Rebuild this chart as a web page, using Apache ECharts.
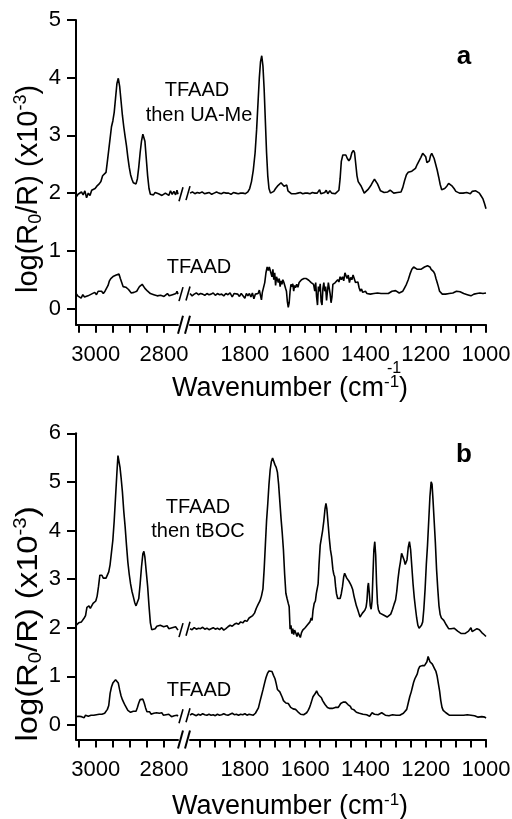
<!DOCTYPE html>
<html><head><meta charset="utf-8">
<script src="https://cdn.jsdelivr.net/npm/echarts@6/dist/echarts.min.js"></script>
<style>html,body{margin:0;padding:0;background:#fff}#c{width:512px;height:819px}</style>
</head><body><div id="c"></div>
<script>
// ---------- tick values ----------
const xTicksLeft = [3050, 3000, 2950, 2900, 2850, 2800];
const xLabelsLeft = [3000, 2800];
const xTicksRight = [1950, 1900, 1850, 1800, 1750, 1700, 1650, 1600, 1550, 1500, 1450, 1400, 1350, 1300, 1250, 1200, 1150, 1100, 1050, 1000];
const xLabelsRight = [1800, 1600, 1400, 1200, 1000];
const yTicksA = [0, 1, 2, 3, 4, 5];
const yTicksB = [0, 1, 2, 3, 4, 5, 6];

// ---------- panel a : TFAAD then UA-Me ----------
const aUpperLeft = [[3058,1.93],[3052,1.98],[3047,1.95],[3042,2.02],[3037,1.97],[3032,2.04],[3027,1.92],[3022,2.0],[3017,1.96],[3012,2.05],[3007,2.02],[3002,2.08],[2997,2.12],[2990,2.16],[2985,2.2],[2980,2.3],[2975,2.33],[2970,2.36],[2966,2.55],[2962,2.75],[2958,2.95],[2954,3.15],[2950,3.25],[2946,3.4],[2942,3.65],[2938,3.9],[2934,3.99],[2930,3.85],[2926,3.6],[2922,3.35],[2918,3.15],[2914,2.98],[2910,2.82],[2906,2.62],[2902,2.45],[2898,2.32],[2894,2.24],[2890,2.18],[2886,2.15],[2882,2.16],[2878,2.25],[2874,2.45],[2870,2.7],[2866,2.9],[2862,3.02],[2859,3.03],[2856,2.9],[2852,2.6],[2848,2.3],[2844,2.08],[2840,1.98],[2836,1.99],[2831,1.97],[2826,2.01],[2821,2.03],[2816,1.99],[2811,2.02],[2806,1.96],[2801,1.97],[2796,2.0],[2791,2.02],[2786,1.96],[2781,2.04],[2776,1.98],[2771,2.03],[2766,1.97],[2762,2.05],[2759,1.98]];
const aUpperRight = [[1982,2.0],[1974,2.02],[1966,1.99],[1958,2.01],[1950,2.0],[1942,2.02],[1934,1.99],[1926,2.0],[1918,2.01],[1910,1.98],[1902,2.0],[1894,2.02],[1886,2.0],[1878,1.99],[1870,2.01],[1862,2.0],[1854,2.0],[1846,1.98],[1838,2.01],[1830,2.0],[1822,1.99],[1814,2.0],[1806,2.0],[1798,1.99],[1790,2.02],[1784,2.08],[1778,2.2],[1772,2.4],[1766,2.7],[1761,3.1],[1756,3.6],[1752,4.0],[1748,4.28],[1744,4.38],[1740,4.2],[1736,3.8],[1732,3.25],[1728,2.7],[1724,2.3],[1720,2.08],[1715,2.0],[1710,2.0],[1704,2.03],[1698,2.08],[1692,2.12],[1686,2.15],[1680,2.18],[1675,2.17],[1670,2.12],[1665,2.1],[1661,2.14],[1657,2.04],[1652,2.02],[1646,1.99],[1640,2.0],[1632,1.99],[1624,2.0],[1616,2.01],[1608,1.99],[1600,2.0],[1592,2.0],[1584,1.99],[1576,2.01],[1568,2.0],[1560,2.0],[1552,2.06],[1548,1.99],[1542,2.0],[1535,2.01],[1530,2.05],[1525,1.99],[1518,2.04],[1512,2.0],[1506,2.02],[1500,1.99],[1494,2.01],[1488,2.05],[1484,2.25],[1480,2.55],[1475,2.66],[1470,2.68],[1465,2.66],[1460,2.6],[1455,2.56],[1450,2.6],[1445,2.7],[1440,2.74],[1436,2.7],[1432,2.5],[1428,2.3],[1424,2.2],[1419,2.17],[1414,2.12],[1409,2.06],[1404,2.0],[1398,2.02],[1392,2.06],[1386,2.1],[1380,2.15],[1375,2.2],[1370,2.24],[1365,2.23],[1360,2.16],[1355,2.1],[1350,2.04],[1344,2.02],[1338,2.01],[1332,2.0],[1326,2.02],[1318,2.05],[1312,2.03],[1306,2.0],[1300,1.99],[1294,2.01],[1288,2.0],[1282,2.02],[1276,2.1],[1270,2.22],[1264,2.32],[1258,2.36],[1252,2.37],[1246,2.38],[1240,2.4],[1234,2.43],[1228,2.5],[1222,2.56],[1216,2.62],[1210,2.69],[1205,2.7],[1200,2.63],[1196,2.53],[1192,2.5],[1188,2.56],[1184,2.65],[1180,2.69],[1176,2.68],[1172,2.6],[1167,2.5],[1162,2.4],[1157,2.28],[1152,2.15],[1147,2.06],[1142,2.05],[1137,2.08],[1130,2.12],[1124,2.17],[1118,2.18],[1112,2.12],[1106,2.08],[1100,2.03],[1094,2.02],[1088,2.0],[1082,2.02],[1076,2.0],[1070,2.03],[1064,2.01],[1058,2.04],[1052,1.99],[1046,2.03],[1040,2.02],[1034,2.04],[1028,2.02],[1022,2.0],[1016,1.95],[1010,1.9],[1005,1.82],[1000,1.73]];

// ---------- panel a : TFAAD ----------
const aLowerLeft = [[3058,0.26],[3053,0.22],[3048,0.25],[3043,0.18],[3038,0.24],[3033,0.2],[3028,0.17],[3023,0.22],[3018,0.2],[3013,0.25],[3008,0.24],[3003,0.28],[2998,0.24],[2993,0.3],[2988,0.28],[2983,0.3],[2978,0.26],[2973,0.3],[2968,0.32],[2964,0.4],[2960,0.48],[2956,0.52],[2952,0.53],[2948,0.56],[2944,0.55],[2940,0.58],[2936,0.61],[2932,0.6],[2928,0.52],[2924,0.45],[2920,0.38],[2916,0.37],[2912,0.37],[2908,0.34],[2904,0.33],[2900,0.3],[2896,0.27],[2892,0.25],[2888,0.28],[2884,0.27],[2880,0.3],[2876,0.34],[2872,0.38],[2868,0.41],[2864,0.42],[2860,0.4],[2856,0.35],[2852,0.32],[2848,0.3],[2844,0.28],[2840,0.26],[2835,0.27],[2830,0.24],[2825,0.26],[2820,0.22],[2815,0.25],[2810,0.23],[2805,0.25],[2800,0.21],[2795,0.24],[2790,0.26],[2785,0.22],[2780,0.25],[2775,0.24],[2770,0.27],[2765,0.26],[2762,0.3],[2759,0.25]];
const aLowerRight = [[1982,0.26],[1975,0.22],[1968,0.25],[1961,0.27],[1954,0.24],[1947,0.26],[1940,0.25],[1933,0.23],[1926,0.26],[1919,0.24],[1912,0.25],[1905,0.27],[1898,0.23],[1891,0.26],[1884,0.24],[1877,0.25],[1870,0.22],[1863,0.26],[1856,0.24],[1849,0.27],[1842,0.2],[1836,0.26],[1830,0.23],[1824,0.25],[1818,0.21],[1812,0.26],[1806,0.24],[1800,0.18],[1795,0.26],[1790,0.22],[1785,0.26],[1780,0.2],[1775,0.27],[1770,0.17],[1765,0.25],[1760,0.28],[1756,0.26],[1752,0.32],[1748,0.3],[1745,0.15],[1742,0.28],[1738,0.3],[1734,0.45],[1730,0.62],[1726,0.72],[1722,0.66],[1719,0.72],[1716,0.75],[1713,0.7],[1710,0.55],[1707,0.68],[1704,0.5],[1701,0.62],[1698,0.4],[1695,0.55],[1692,0.58],[1689,0.45],[1686,0.52],[1683,0.38],[1680,0.48],[1677,0.42],[1674,0.5],[1671,0.46],[1668,0.48],[1665,0.35],[1662,0.3],[1659,0.12],[1656,0.02],[1653,0.1],[1650,0.3],[1647,0.42],[1644,0.38],[1641,0.43],[1638,0.3],[1635,0.4],[1632,0.36],[1628,0.42],[1624,0.37],[1620,0.45],[1616,0.46],[1612,0.5],[1608,0.5],[1604,0.52],[1600,0.51],[1596,0.52],[1592,0.5],[1588,0.49],[1584,0.5],[1580,0.45],[1576,0.48],[1572,0.42],[1568,0.3],[1565,0.45],[1562,0.2],[1559,0.06],[1556,0.38],[1553,0.3],[1550,0.43],[1547,0.12],[1544,0.06],[1541,0.35],[1538,0.45],[1535,0.3],[1532,0.38],[1529,0.14],[1526,0.3],[1523,0.45],[1520,0.35],[1517,0.25],[1514,0.1],[1511,0.2],[1508,0.42],[1504,0.4],[1500,0.45],[1496,0.42],[1492,0.5],[1488,0.46],[1484,0.55],[1480,0.5],[1476,0.55],[1472,0.48],[1468,0.62],[1465,0.6],[1461,0.52],[1457,0.58],[1453,0.45],[1449,0.54],[1445,0.5],[1441,0.58],[1437,0.56],[1433,0.45],[1429,0.42],[1425,0.46],[1421,0.36],[1417,0.3],[1413,0.34],[1409,0.28],[1405,0.27],[1400,0.3],[1395,0.26],[1390,0.27],[1384,0.25],[1378,0.27],[1372,0.26],[1366,0.25],[1360,0.27],[1354,0.24],[1348,0.26],[1342,0.25],[1336,0.26],[1330,0.27],[1324,0.26],[1318,0.28],[1312,0.3],[1306,0.28],[1300,0.31],[1294,0.3],[1288,0.27],[1282,0.26],[1276,0.3],[1270,0.36],[1264,0.42],[1258,0.5],[1252,0.6],[1246,0.68],[1240,0.72],[1234,0.7],[1228,0.68],[1222,0.7],[1216,0.68],[1210,0.7],[1204,0.72],[1198,0.7],[1194,0.74],[1190,0.75],[1186,0.72],[1182,0.68],[1178,0.66],[1174,0.64],[1170,0.6],[1166,0.52],[1162,0.45],[1158,0.38],[1154,0.3],[1150,0.27],[1145,0.25],[1140,0.27],[1134,0.25],[1128,0.27],[1122,0.26],[1116,0.28],[1110,0.27],[1104,0.29],[1098,0.3],[1092,0.32],[1086,0.29],[1080,0.28],[1074,0.26],[1068,0.27],[1062,0.24],[1056,0.25],[1050,0.22],[1045,0.19],[1040,0.25],[1035,0.22],[1030,0.26],[1025,0.23],[1020,0.27],[1015,0.24],[1010,0.26],[1005,0.25],[1000,0.27]];

// ---------- panel b : TFAAD then tBOC ----------
const bUpperLeft = [[3058,2.05],[3054,2.08],[3050,2.1],[3046,2.08],[3042,2.12],[3038,2.15],[3034,2.2],[3030,2.25],[3026,2.42],[3023,2.38],[3020,2.45],[3016,2.4],[3012,2.45],[3008,2.5],[3004,2.48],[3000,2.55],[2996,2.65],[2992,2.85],[2988,3.08],[2985,3.12],[2982,3.08],[2978,3.02],[2974,3.0],[2970,3.02],[2966,3.05],[2962,3.15],[2958,3.3],[2954,3.55],[2950,3.8],[2946,4.2],[2942,4.7],[2938,5.2],[2935,5.54],[2932,5.5],[2929,5.3],[2926,5.1],[2922,4.8],[2918,4.4],[2914,4.08],[2910,3.7],[2906,3.35],[2902,3.1],[2898,2.9],[2894,2.75],[2890,2.64],[2886,2.52],[2882,2.45],[2878,2.46],[2874,2.6],[2870,2.9],[2866,3.25],[2862,3.52],[2859,3.57],[2856,3.45],[2852,3.15],[2848,2.85],[2844,2.45],[2840,2.1],[2836,1.96],[2831,2.0],[2826,1.98],[2821,2.03],[2816,2.0],[2811,2.05],[2806,2.08],[2801,2.02],[2796,2.0],[2791,2.04],[2786,1.98],[2781,2.02],[2776,2.0],[2771,1.96],[2766,2.02],[2762,1.98],[2759,1.95]];
const bUpperRight = [[1982,1.98],[1975,1.96],[1968,2.0],[1961,1.97],[1954,1.99],[1947,1.98],[1940,2.01],[1933,1.97],[1926,1.99],[1919,1.96],[1912,1.98],[1905,2.0],[1898,1.97],[1891,1.99],[1884,1.96],[1877,2.0],[1870,1.95],[1863,1.98],[1856,2.02],[1849,2.05],[1842,2.03],[1835,2.07],[1828,2.09],[1821,2.07],[1814,2.12],[1807,2.1],[1800,2.15],[1793,2.13],[1786,2.2],[1780,2.22],[1774,2.25],[1768,2.3],[1762,2.4],[1756,2.48],[1750,2.55],[1745,2.65],[1740,2.8],[1736,3.2],[1732,3.7],[1728,4.2],[1724,4.55],[1720,4.95],[1716,5.25],[1712,5.42],[1708,5.49],[1704,5.45],[1700,5.35],[1696,5.3],[1692,5.2],[1688,4.95],[1684,4.6],[1680,4.25],[1676,3.95],[1672,3.6],[1668,3.1],[1664,2.71],[1660,2.6],[1656,2.5],[1653,2.43],[1650,1.97],[1647,2.05],[1644,1.88],[1641,1.98],[1638,1.86],[1635,1.95],[1631,1.89],[1627,1.82],[1624,1.9],[1620,1.86],[1616,1.8],[1612,1.9],[1608,1.95],[1604,1.98],[1600,2.0],[1596,2.02],[1592,2.06],[1588,2.1],[1584,2.12],[1580,2.2],[1577,2.15],[1574,2.35],[1570,2.5],[1566,2.55],[1563,2.7],[1560,2.68],[1557,2.9],[1554,3.3],[1550,3.7],[1546,3.85],[1542,4.0],[1538,4.2],[1534,4.45],[1531,4.56],[1528,4.45],[1524,4.15],[1520,3.85],[1516,3.6],[1512,3.45],[1508,3.2],[1505,3.1],[1502,3.05],[1499,2.85],[1496,2.7],[1492,2.6],[1488,2.57],[1484,2.6],[1480,2.7],[1476,2.85],[1472,3.05],[1469,3.12],[1465,3.1],[1462,3.02],[1458,3.0],[1454,2.95],[1450,2.9],[1446,2.85],[1442,2.78],[1438,2.65],[1434,2.55],[1430,2.45],[1426,2.38],[1422,2.3],[1418,2.22],[1414,2.2],[1410,2.3],[1406,2.34],[1402,2.36],[1398,2.42],[1395,2.55],[1392,2.85],[1390,2.92],[1387,2.7],[1384,2.45],[1381,2.38],[1378,2.55],[1375,3.1],[1372,3.6],[1369,3.77],[1366,3.5],[1363,2.9],[1360,2.5],[1357,2.37],[1352,2.3],[1346,2.28],[1340,2.26],[1334,2.24],[1328,2.22],[1322,2.22],[1316,2.28],[1310,2.38],[1305,2.48],[1300,2.57],[1296,2.75],[1292,3.0],[1288,3.2],[1284,3.35],[1280,3.53],[1276,3.5],[1272,3.4],[1268,3.3],[1265,3.27],[1262,3.4],[1258,3.65],[1254,3.77],[1250,3.6],[1246,3.25],[1242,2.9],[1238,2.62],[1234,2.4],[1230,2.2],[1226,2.05],[1222,1.99],[1218,2.0],[1214,2.05],[1210,2.12],[1206,2.4],[1202,2.8],[1198,3.3],[1194,3.7],[1190,4.2],[1186,4.7],[1182,5.0],[1179,4.95],[1176,4.65],[1172,4.2],[1168,3.75],[1164,3.2],[1160,2.8],[1156,2.45],[1152,2.27],[1148,2.2],[1144,2.18],[1140,2.15],[1136,2.12],[1132,2.06],[1128,2.02],[1124,1.98],[1120,1.96],[1116,1.98],[1112,2.0],[1106,1.99],[1100,1.95],[1094,1.93],[1088,1.9],[1082,1.88],[1076,1.86],[1070,1.88],[1064,1.9],[1058,1.93],[1054,1.92],[1050,2.0],[1046,1.92],[1042,1.9],[1038,1.95],[1034,1.97],[1030,1.98],[1026,1.95],[1022,1.96],[1018,1.93],[1014,1.9],[1010,1.88],[1005,1.85],[1000,1.82]];

// ---------- panel b : TFAAD ----------
const bLowerLeft = [[3058,0.17],[3054,0.2],[3050,0.18],[3046,0.22],[3042,0.17],[3038,0.21],[3034,0.15],[3030,0.2],[3026,0.23],[3022,0.18],[3018,0.22],[3014,0.2],[3010,0.24],[3006,0.2],[3002,0.23],[2998,0.21],[2994,0.25],[2990,0.22],[2986,0.24],[2982,0.22],[2978,0.25],[2974,0.24],[2970,0.28],[2966,0.32],[2962,0.4],[2958,0.65],[2954,0.78],[2950,0.86],[2946,0.9],[2942,0.93],[2938,0.93],[2934,0.86],[2930,0.72],[2926,0.6],[2922,0.52],[2918,0.46],[2914,0.4],[2910,0.35],[2906,0.3],[2902,0.28],[2898,0.26],[2894,0.3],[2890,0.28],[2886,0.24],[2882,0.28],[2878,0.36],[2874,0.45],[2870,0.52],[2866,0.55],[2862,0.53],[2858,0.45],[2854,0.35],[2850,0.27],[2846,0.24],[2842,0.27],[2838,0.22],[2834,0.26],[2830,0.24],[2826,0.28],[2822,0.25],[2818,0.22],[2814,0.24],[2810,0.21],[2806,0.25],[2802,0.2],[2798,0.23],[2794,0.21],[2790,0.18],[2786,0.22],[2782,0.2],[2778,0.17],[2774,0.21],[2770,0.19],[2766,0.16],[2762,0.2],[2759,0.18]];
const bLowerRight = [[1982,0.2],[1975,0.23],[1968,0.21],[1961,0.19],[1954,0.22],[1947,0.2],[1940,0.23],[1933,0.21],[1926,0.2],[1919,0.22],[1912,0.2],[1905,0.21],[1898,0.19],[1891,0.22],[1884,0.2],[1877,0.21],[1870,0.23],[1863,0.21],[1856,0.2],[1849,0.22],[1842,0.24],[1835,0.21],[1828,0.22],[1821,0.2],[1814,0.22],[1807,0.21],[1800,0.23],[1793,0.2],[1786,0.22],[1779,0.21],[1772,0.2],[1765,0.24],[1760,0.26],[1755,0.35],[1750,0.48],[1745,0.6],[1740,0.72],[1735,0.85],[1730,0.97],[1725,1.06],[1720,1.11],[1715,1.13],[1710,1.1],[1705,1.02],[1700,0.95],[1696,0.85],[1692,0.73],[1688,0.7],[1684,0.68],[1680,0.64],[1676,0.57],[1672,0.5],[1668,0.47],[1664,0.45],[1660,0.42],[1656,0.44],[1652,0.4],[1648,0.36],[1644,0.37],[1640,0.33],[1636,0.31],[1632,0.32],[1628,0.28],[1624,0.27],[1620,0.24],[1615,0.22],[1610,0.2],[1605,0.21],[1600,0.21],[1595,0.25],[1590,0.3],[1586,0.35],[1582,0.42],[1578,0.5],[1574,0.58],[1570,0.62],[1566,0.65],[1562,0.7],[1559,0.71],[1556,0.62],[1553,0.6],[1550,0.58],[1546,0.56],[1542,0.5],[1538,0.48],[1534,0.42],[1530,0.4],[1526,0.36],[1522,0.38],[1518,0.34],[1514,0.36],[1510,0.34],[1505,0.35],[1500,0.36],[1495,0.34],[1490,0.36],[1486,0.4],[1482,0.44],[1478,0.46],[1474,0.47],[1470,0.48],[1466,0.47],[1462,0.44],[1458,0.42],[1454,0.4],[1450,0.38],[1446,0.33],[1442,0.3],[1438,0.31],[1434,0.28],[1430,0.26],[1426,0.27],[1420,0.24],[1414,0.23],[1408,0.22],[1402,0.2],[1396,0.21],[1390,0.17],[1386,0.18],[1382,0.2],[1378,0.25],[1374,0.23],[1370,0.22],[1364,0.2],[1358,0.21],[1352,0.23],[1346,0.25],[1340,0.22],[1334,0.2],[1328,0.21],[1322,0.19],[1316,0.2],[1310,0.21],[1304,0.19],[1298,0.2],[1292,0.21],[1286,0.2],[1280,0.22],[1274,0.24],[1268,0.27],[1263,0.32],[1258,0.45],[1253,0.58],[1248,0.68],[1244,0.78],[1240,0.88],[1236,0.95],[1232,1.0],[1228,1.05],[1224,1.15],[1220,1.2],[1216,1.23],[1212,1.22],[1208,1.2],[1204,1.22],[1200,1.25],[1196,1.3],[1192,1.41],[1189,1.38],[1186,1.3],[1182,1.28],[1178,1.25],[1174,1.2],[1170,1.15],[1166,1.1],[1162,1.0],[1158,0.85],[1154,0.7],[1150,0.5],[1146,0.36],[1142,0.3],[1138,0.26],[1133,0.25],[1128,0.22],[1122,0.2],[1116,0.19],[1110,0.2],[1104,0.21],[1098,0.2],[1092,0.19],[1086,0.2],[1080,0.18],[1074,0.2],[1068,0.19],[1062,0.21],[1056,0.18],[1050,0.2],[1044,0.17],[1038,0.19],[1032,0.18],[1026,0.16],[1020,0.18],[1014,0.17],[1008,0.15],[1004,0.16],[1000,0.14]];

// ---------- layout ----------
const FONT = '"Liberation Sans", Arial, Helvetica, sans-serif';
const LEFT_X = 76, LEFT_W = 102, RIGHT_X = 190, RIGHT_W = 296;
const panels = [
  {top: 20, height: 304.7, ymin: -0.28, ymax: 5, yTicks: yTicksA,
   curves: [[aUpperLeft, aUpperRight], [aLowerLeft, aLowerRight]]},
  {top: 433.3, height: 306.2, ymin: -0.3, ymax: 6, yTicks: yTicksB,
   curves: [[bUpperLeft, bUpperRight], [bLowerLeft, bLowerRight]]}
];
const X_LEFT = {min: 2759, max: 3058}, X_RIGHT = {min: 1000, max: 1982};
const plain = v => String(v);

const grid = [], xAxis = [], yAxis = [], series = [];
const axisLineStyle = {color: '#000', width: 2};
panels.forEach((p, pi) => {
  [0, 1].forEach(side => {
    const gi = pi * 2 + side;
    grid.push({left: side ? RIGHT_X : LEFT_X, width: side ? RIGHT_W : LEFT_W,
               top: p.top, height: p.height, outerBoundsMode: 'none', containLabel: false});
    const xr = side ? X_RIGHT : X_LEFT;
    xAxis.push({type: 'value', gridIndex: gi, min: xr.min, max: xr.max, inverse: true,
      axisLine: {show: true, onZero: false, lineStyle: axisLineStyle},
      axisTick: {show: true, length: 8, inside: false, customValues: side ? xTicksRight : xTicksLeft, lineStyle: {color: '#000', width: 2}},
      axisLabel: {show: true, customValues: side ? xLabelsRight : xLabelsLeft, formatter: plain, margin: 19, color: '#000', fontSize: 22, fontFamily: FONT},
      splitLine: {show: false}, minorTick: {show: false}});
    yAxis.push({type: 'value', gridIndex: gi, min: p.ymin, max: p.ymax, show: side === 0,
      axisLine: {show: true, onZero: false, lineStyle: axisLineStyle},
      axisTick: {show: true, length: 9, inside: false, customValues: p.yTicks, lineStyle: {color: '#000', width: 2}},
      axisLabel: {show: true, customValues: p.yTicks, formatter: plain, margin: 15, color: '#000', fontSize: 22, fontFamily: FONT},
      splitLine: {show: false}});
    p.curves.forEach(c => {
      series.push({type: 'line', xAxisIndex: gi, yAxisIndex: gi, data: c[side],
        symbol: 'none', showSymbol: false, silent: true, animation: false,
        lineStyle: {color: '#000', width: 1.6}});
    });
  });
});

const chart = echarts.init(document.getElementById('c'), null, {renderer: 'canvas', width: 512, height: 819});
chart.setOption({animation: false, backgroundColor: '#fff', grid, xAxis, yAxis, series});

// ---------- decorations: break marks and texts ----------
const graphic = [];
const blk = {stroke: '#000', lineWidth: 2};
const LEFT_END = LEFT_X + LEFT_W;
panels.forEach((p, pi) => {
  const yA = p.top + p.height;
  graphic.push({type: 'line', shape: {x1: LEFT_END, y1: yA + 9, x2: LEFT_END + 5, y2: yA - 9}, style: blk});
  graphic.push({type: 'line', shape: {x1: RIGHT_X - 5, y1: yA + 9, x2: RIGHT_X, y2: yA - 9}, style: blk});
  p.curves.forEach(c => {
    const l = c[0][c[0].length - 1], r = c[1][0];
    const pl = chart.convertToPixel({xAxisIndex: pi * 2, yAxisIndex: pi * 2}, l);
    const pr = chart.convertToPixel({xAxisIndex: pi * 2 + 1, yAxisIndex: pi * 2 + 1}, r);
    graphic.push({type: 'line', shape: {x1: LEFT_END + 1, y1: pl[1] + 7, x2: LEFT_END + 5, y2: pl[1] - 7}, style: {stroke: '#000', lineWidth: 1.6}});
    graphic.push({type: 'line', shape: {x1: RIGHT_X - 4, y1: pr[1] + 7, x2: RIGHT_X, y2: pr[1] - 7}, style: {stroke: '#000', lineWidth: 1.6}});
  });
});

function txt(text, x, y, size, extra) {
  return Object.assign({type: 'text', x: x, y: y, silent: true,
    style: Object.assign({text: text, fill: '#000', font: size + 'px ' + FONT,
      textAlign: 'center', align: 'center', textVerticalAlign: 'middle', verticalAlign: 'middle'}, (extra || {}).style || {})},
    (extra || {}).el || {});
}
function rich(size) {
  const s = Math.round(size * 0.62);
  return {
    sup: {fontSize: s, fontFamily: FONT, fill: '#000', verticalAlign: 'top', lineHeight: s},
    sub: {fontSize: s, fontFamily: FONT, fill: '#000', verticalAlign: 'bottom', lineHeight: s},
    n: {fontSize: size, fontFamily: FONT, fill: '#000', lineHeight: size + 4}
  };
}
const yTitle = '{n|log(R}{sub|0}{n|/R) (x10}{sup|-3}{n|)}';
const xTitle = '{n|Wavenumber (cm}{sup|-1}{n|)}';

graphic.push(txt('', 29, 189, 29, {style: {text: yTitle, rich: rich(29)}, el: {rotation: Math.PI / 2}}));
graphic.push(txt('', 29, 624, 29, {style: {text: yTitle, rich: rich(29)}, el: {rotation: Math.PI / 2, scaleX: 1.13}}));
graphic.push(txt('', 290, 389, 27, {style: {text: xTitle, rich: rich(27)}}));
graphic.push(txt('', 290, 807, 27, {style: {text: xTitle, rich: rich(27)}}));
graphic.push(txt('-1', 394, 369, 16));
graphic.push(txt('TFAAD', 197, 90, 20));
graphic.push(txt('then UA-Me', 199, 115, 20));
graphic.push(txt('TFAAD', 199, 267, 20));
graphic.push(txt('TFAAD', 198, 507, 20));
graphic.push(txt('then tBOC', 198, 531, 20));
graphic.push(txt('TFAAD', 199, 690, 20));
graphic.push(txt('a', 464, 57, 26, {style: {font: 'bold 26px ' + FONT}}));
graphic.push(txt('b', 464, 455, 26, {style: {font: 'bold 26px ' + FONT}}));

chart.setOption({graphic: graphic});
</script></body></html>
